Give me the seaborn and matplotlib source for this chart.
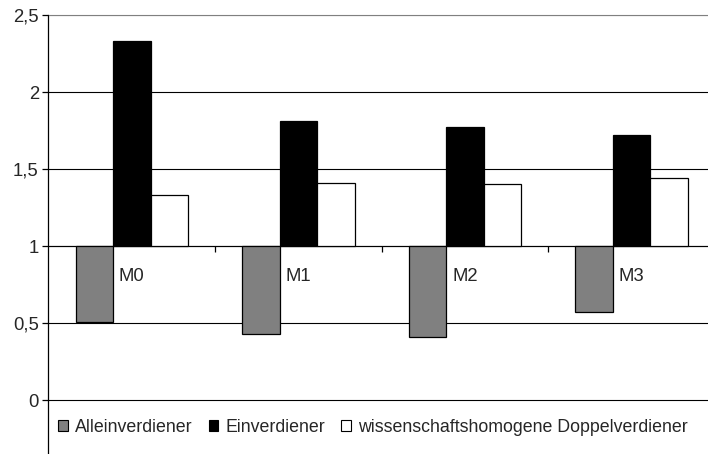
import pandas as pd
import numpy as np
import matplotlib.pyplot as plt
import seaborn as sns
from matplotlib.patches import Patch
from matplotlib.ticker import FuncFormatter, FixedLocator

# Werte (Odds Ratios, Basis = 1)
modelle = ["M0", "M1", "M2", "M3"]
alleinverdiener = [0.51, 0.43, 0.41, 0.57]
einverdiener = [2.33, 1.81, 1.77, 1.72]
doppelverdiener = [1.33, 1.41, 1.40, 1.44]
gruppen = ["Alleinverdiener", "Einverdiener", "wissenschaftshomogene Doppelverdiener"]
farben = ["#808080", "#000000", "#ffffff"]
y_ticks = [0, 0.5, 1, 1.5, 2, 2.5]

df = pd.DataFrame({
    "Modell": modelle * 3,
    "Gruppe": [g for g in gruppen for _ in modelle],
    "Wert": alleinverdiener + einverdiener + doppelverdiener,
})
df["Abweichung"] = df["Wert"] - 1  # Balken starten bei 1

sns.set_style("white")
plt.rcParams["font.family"] = ["Liberation Sans", "DejaVu Sans"]

fig = plt.figure(figsize=(7.08, 4.54), dpi=100)
ax = fig.add_axes([48.5 / 708, 0, 666.5 / 708, 439 / 454])

sns.barplot(data=df, x="Modell", y="Abweichung", hue="Gruppe", order=modelle,
            hue_order=gruppen, palette=farben, width=0.675, gap=0, errorbar=None,
            bottom=1, edgecolor="black", linewidth=0.9, legend=False, ax=ax, zorder=3)

ax.set_ylim(-0.35, 2.5)
ax.set_xlim(-0.5, 3.5)
ax.yaxis.set_major_locator(FixedLocator(y_ticks))
ax.yaxis.set_major_formatter(FuncFormatter(lambda v, p: f"{v:g}".replace(".", ",")))
ax.set_xlabel("")
ax.set_ylabel("")

# horizontale Gitterlinien
ax.grid(axis="y", color="black", linewidth=0.8)
ax.set_axisbelow(True)
ax.get_ygridlines()[-1].set_color("#808080")

# Kategorienachse kreuzt bei 1
ax.spines["right"].set_visible(False)
ax.spines["top"].set_color("#808080")
ax.spines["bottom"].set_position(("data", 1))
ax.spines["bottom"].set_color("black")
ax.spines["bottom"].set_linewidth(0.8)
ax.spines["left"].set_color("black")
ax.spines["left"].set_linewidth(0.9)

ax.tick_params(axis="y", direction="out", length=4, width=0.9, color="black",
               left=True, pad=3, labelsize=13.3)
ax.tick_params(axis="x", which="major", length=0, pad=16, labelsize=13.3)
ax.set_xticks(np.arange(1, len(modelle)) - 0.5, minor=True)
ax.tick_params(axis="x", which="minor", direction="out", length=4, width=0.9,
               color="black", bottom=True)

handles = [Patch(facecolor=f, edgecolor="black", linewidth=0.8) for f in farben]
fig.legend(handles, gruppen, loc="center left", bbox_to_anchor=(58 / 708, 27 / 454),
           ncol=3, frameon=False, fontsize=12.8, handlelength=0.55, handleheight=0.55,
           handletextpad=0.4, columnspacing=0.9, borderpad=0, borderaxespad=0)

plt.savefig("out.png", dpi=100)
